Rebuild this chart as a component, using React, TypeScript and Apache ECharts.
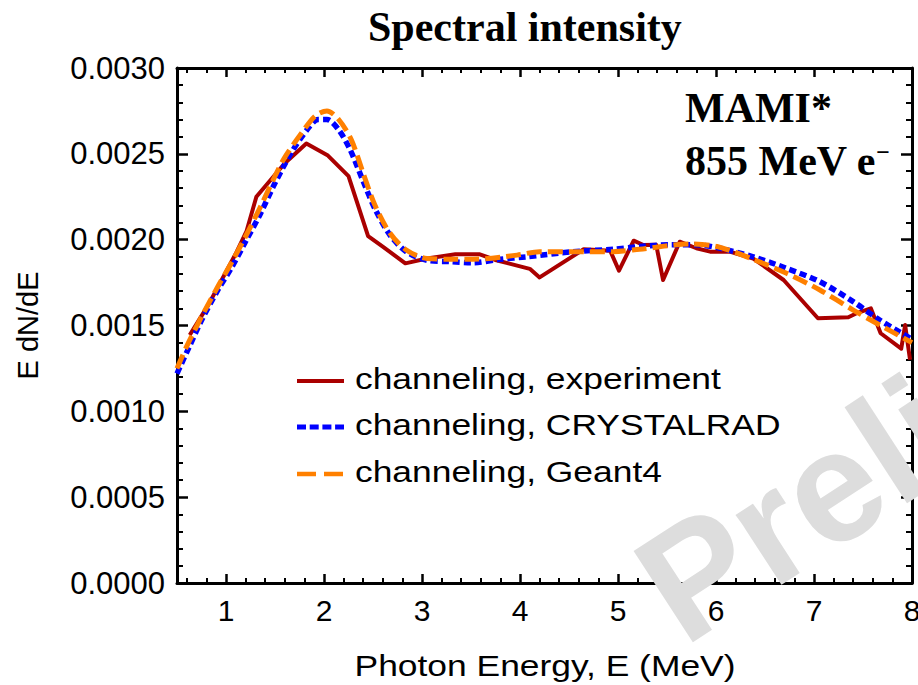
import React, { useEffect, useRef } from 'react';
import * as echarts from 'echarts';

// ---------- data ----------
const TITLE = 'Spectral intensity';
const X_NAME = 'Photon Energy, E (MeV)';
const Y_NAME = 'E dN/dE';
const NOTE_1 = 'MAMI*';
const NOTE_2 = '855 MeV e';
const WATERMARK = 'Preliminary';

const X_RANGE = [0.5, 8];
const X_TICKS = [1, 2, 3, 4, 5, 6, 7, 8];
const Y_TICKS = [0, 0.0005, 0.001, 0.0015, 0.002, 0.0025, 0.003];

const SERIES_NAMES = ['channeling, experiment', 'channeling, CRYSTALRAD', 'channeling, Geant4'];

const EXP_E = [0.63, 0.82, 1.11, 1.21, 1.31, 1.60, 1.82, 2.04, 2.25, 2.45, 2.61, 2.83, 3.05, 3.34, 3.59, 3.76, 4.10, 4.20, 4.65, 4.92, 5.01, 5.16, 5.26, 5.39, 5.46, 5.63, 5.80, 5.94, 6.14, 6.38, 6.69, 7.04, 7.35, 7.43, 7.58, 7.68, 7.89, 7.93, 7.98];
const EXP_V = [0.001445, 0.00162, 0.00193, 0.00205, 0.00225, 0.002445, 0.00256, 0.00249, 0.00237, 0.00202, 0.001955, 0.001862, 0.00189, 0.001915, 0.001915, 0.00188, 0.00183, 0.00178, 0.001944, 0.001936, 0.00182, 0.001994, 0.001969, 0.00197, 0.001765, 0.001988, 0.00195, 0.00193, 0.00193, 0.00189, 0.001765, 0.001542, 0.001548, 0.00157, 0.0016, 0.001455, 0.001365, 0.001503, 0.0013];

const CRY_E = [0.5, 0.62, 0.75, 0.92, 1.06, 1.21, 1.35, 1.50, 1.67, 1.84, 1.94, 2.03, 2.15, 2.27, 2.40, 2.52, 2.67, 2.84, 3.05, 3.29, 3.52, 3.80, 4.07, 4.54, 4.95, 5.22, 5.53, 5.80, 6.04, 6.38, 6.72, 7.06, 7.40, 7.67, 8.0];
const CRY_V = [0.00122, 0.00137, 0.00153, 0.00171, 0.00184, 0.0020, 0.00215, 0.00233, 0.00251, 0.00265, 0.00270, 0.00270, 0.00264, 0.00252, 0.00234, 0.00218, 0.00203, 0.00193, 0.00188, 0.001872, 0.001866, 0.001886, 0.0019, 0.00193, 0.001944, 0.00196, 0.00197, 0.00197, 0.00195, 0.0019, 0.001833, 0.001755, 0.001639, 0.001532, 0.00142];

const G4_E = [0.5, 0.6, 0.75, 0.92, 1.06, 1.21, 1.35, 1.50, 1.60, 1.77, 1.91, 2.03, 2.15, 2.28, 2.41, 2.52, 2.67, 2.84, 3.05, 3.29, 3.52, 3.97, 4.20, 4.54, 4.95, 5.22, 5.73, 6.01, 6.38, 6.72, 7.06, 7.40, 7.67, 8.0];
const G4_V = [0.00125, 0.00138, 0.00155, 0.00173, 0.00187, 0.00203, 0.00219, 0.00237, 0.00248, 0.00262, 0.00272, 0.00275, 0.0027, 0.00258, 0.00237, 0.0022, 0.00204, 0.00194, 0.00189, 0.001886, 0.001886, 0.00191, 0.00193, 0.00193, 0.00193, 0.001944, 0.001975, 0.00196, 0.001885, 0.001804, 0.001707, 0.00159, 0.001503, 0.0014];

// ---------- styling ----------
const W = 918;
const H = 685;
const SANS = '"Liberation Sans", Arial, Helvetica, sans-serif';
const SERIF = '"Liberation Serif", "Times New Roman", serif';
const WIDE = 1.18; // horizontal widening of the reference's sans texts

const COLORS = ['#aa0000', '#0000ff', '#ff8000'];
const WIDTHS = [4, 5.5, 5];
const DASHES: any[] = ['solid', [7, 4], [15, 6]];
const LEGEND_DASHES: any[] = [null, [9, 3.7], [19, 8]];
const LEGEND_ROWS = [381, 427, 474];

const X_MINOR: number[] = [];
for (let k = Math.ceil(X_RANGE[0] * 5); k <= Math.floor(X_RANGE[1] * 5); k++) {
  if (k % 5 !== 0) X_MINOR.push(k / 5);
}

const pairs = (xs: number[], ys: number[]) => xs.map((x, i) => [x, ys[i]]);

const baseX = (extra: any) => ({
  type: 'value',
  min: X_RANGE[0],
  max: X_RANGE[1],
  splitLine: { show: false },
  axisLabel: { show: false },
  ...extra,
});

const baseY = (extra: any) => ({
  type: 'value',
  min: Y_TICKS[0],
  max: Y_TICKS[Y_TICKS.length - 1],
  interval: Y_TICKS[1] - Y_TICKS[0],
  splitLine: { show: false },
  minorSplitLine: { show: false },
  axisLine: { show: true, lineStyle: { color: '#000', width: 3 } },
  axisTick: { show: true, inside: true, length: 11, lineStyle: { color: '#000', width: 2.5 } },
  minorTick: { show: true, splitNumber: 5, length: 6, lineStyle: { color: '#000', width: 2 } },
  ...extra,
});

function buildOption(): any {
  const dataSets = [pairs(EXP_E, EXP_V), pairs(CRY_E, CRY_V), pairs(G4_E, G4_V)];

  const legendItems: any[] = [];
  SERIES_NAMES.forEach((n, i) => {
    const y = LEGEND_ROWS[i];
    legendItems.push({
      type: 'line',
      z: 60,
      shape: { x1: 297, y1: y, x2: 344, y2: y },
      style: {
        stroke: COLORS[i],
        lineWidth: WIDTHS[i] - (i === 0 ? 0 : 0.5),
        lineDash: LEGEND_DASHES[i],
        lineCap: 'butt',
      },
    });
    legendItems.push({
      type: 'group',
      x: 355,
      y: y - 2.4,
      scaleX: WIDE,
      z: 60,
      children: [
        {
          type: 'text',
          x: 0,
          y: 0,
          z: 60,
          style: { text: n, fontFamily: SANS, fontSize: 30, fill: '#000', align: 'left', verticalAlign: 'middle' },
        },
      ],
    });
  });

  return {
    animation: false,
    backgroundColor: '#fff',
    title: {
      text: TITLE,
      left: 368,
      top: 6,
      padding: 0,
      textStyle: { fontFamily: SERIF, fontWeight: 'bold', fontSize: 42, color: '#000' },
    },
    grid: { left: 177, right: 6, top: 68, bottom: 102, containLabel: false, outerBoundsMode: 'none' },
    xAxis: [
      baseX({
        position: 'bottom',
        axisLine: { show: true, onZero: false, lineStyle: { color: '#000', width: 3 } },
        axisTick: { show: true, inside: true, length: 9, customValues: X_TICKS, lineStyle: { color: '#000', width: 2.5 } },
        axisLabel: { show: true, customValues: X_TICKS, fontFamily: SANS, fontSize: 30, color: '#000', margin: 12 },
      }),
      baseX({
        position: 'bottom',
        axisLine: { show: false, onZero: false },
        axisTick: { show: true, inside: true, length: 5, customValues: X_MINOR, lineStyle: { color: '#000', width: 2 } },
      }),
      baseX({
        position: 'top',
        axisLine: { show: true, onZero: false, lineStyle: { color: '#000', width: 3 } },
        axisTick: { show: true, inside: true, length: 9, customValues: X_TICKS, lineStyle: { color: '#000', width: 2.5 } },
      }),
      baseX({
        position: 'top',
        axisLine: { show: false, onZero: false },
        axisTick: { show: true, inside: true, length: 5, customValues: X_MINOR, lineStyle: { color: '#000', width: 2 } },
      }),
    ],
    yAxis: [
      baseY({
        position: 'left',
        axisLabel: {
          show: true,
          fontFamily: SANS,
          fontSize: 31,
          color: '#000',
          margin: 12,
          formatter: (v: number) => v.toFixed(4),
        },
        name: Y_NAME,
        nameLocation: 'middle',
        nameRotate: 90,
        nameGap: 135,
        nameTextStyle: { fontFamily: SANS, fontSize: 29, color: '#000' },
      }),
      baseY({ position: 'right', axisLabel: { show: false } }),
    ],
    series: dataSets.map((d, i) => ({
      name: SERIES_NAMES[i],
      type: 'line',
      xAxisIndex: 0,
      yAxisIndex: 0,
      data: d,
      symbol: 'none',
      showSymbol: false,
      smooth: i === 0 ? false : 0.3,
      z: 2 + i,
      lineStyle: { color: COLORS[i], width: WIDTHS[i], type: DASHES[i], cap: 'butt', join: 'round' },
      itemStyle: { color: COLORS[i] },
      emphasis: { disabled: true },
    })),
    graphic: [
      ...legendItems,
      {
        type: 'group',
        x: 545,
        y: 665,
        scaleX: WIDE,
        z: 60,
        children: [
          {
            type: 'text',
            x: 0,
            y: 0,
            style: { text: X_NAME, fontFamily: SANS, fontSize: 30, fill: '#000', align: 'center', verticalAlign: 'middle' },
          },
        ],
      },
      {
        type: 'text',
        x: 685,
        y: 87,
        z: 50,
        style: { text: NOTE_1, fontFamily: SERIF, fontWeight: 'bold', fontSize: 42, fill: '#000', verticalAlign: 'top' },
      },
      {
        type: 'text',
        x: 685,
        y: 140,
        z: 50,
        style: {
          text: NOTE_2 + '{m|−}',
          fontFamily: SERIF,
          fontWeight: 'bold',
          fontSize: 42,
          fill: '#000',
          verticalAlign: 'top',
          rich: { m: { fontFamily: SERIF, fontWeight: 'bold', fontSize: 24, verticalAlign: 'top', fill: '#000' } },
        },
      },
      {
        type: 'text',
        x: 654,
        y: 602,
        rotation: (33 * Math.PI) / 180,
        z: 100,
        style: {
          text: WATERMARK,
          fontFamily: SANS,
          fontWeight: 'bold',
          fontSize: 158,
          fill: '#dddddd',
          align: 'left',
          verticalAlign: 'middle',
        },
      },
    ],
  };
}

export default function App() {
  const ref = useRef<HTMLDivElement>(null);
  useEffect(() => {
    if (!ref.current) return;
    const chart = echarts.init(ref.current, undefined, { renderer: 'svg' });
    chart.setOption(buildOption());
    return () => chart.dispose();
  }, []);
  return (
    <div
      style={{
        position: 'fixed',
        left: 0,
        top: 0,
        width: W,
        height: H,
        overflow: 'hidden',
        background: '#fff',
      }}
    >
      <div ref={ref} style={{ width: W, height: H }} />
    </div>
  );
}
